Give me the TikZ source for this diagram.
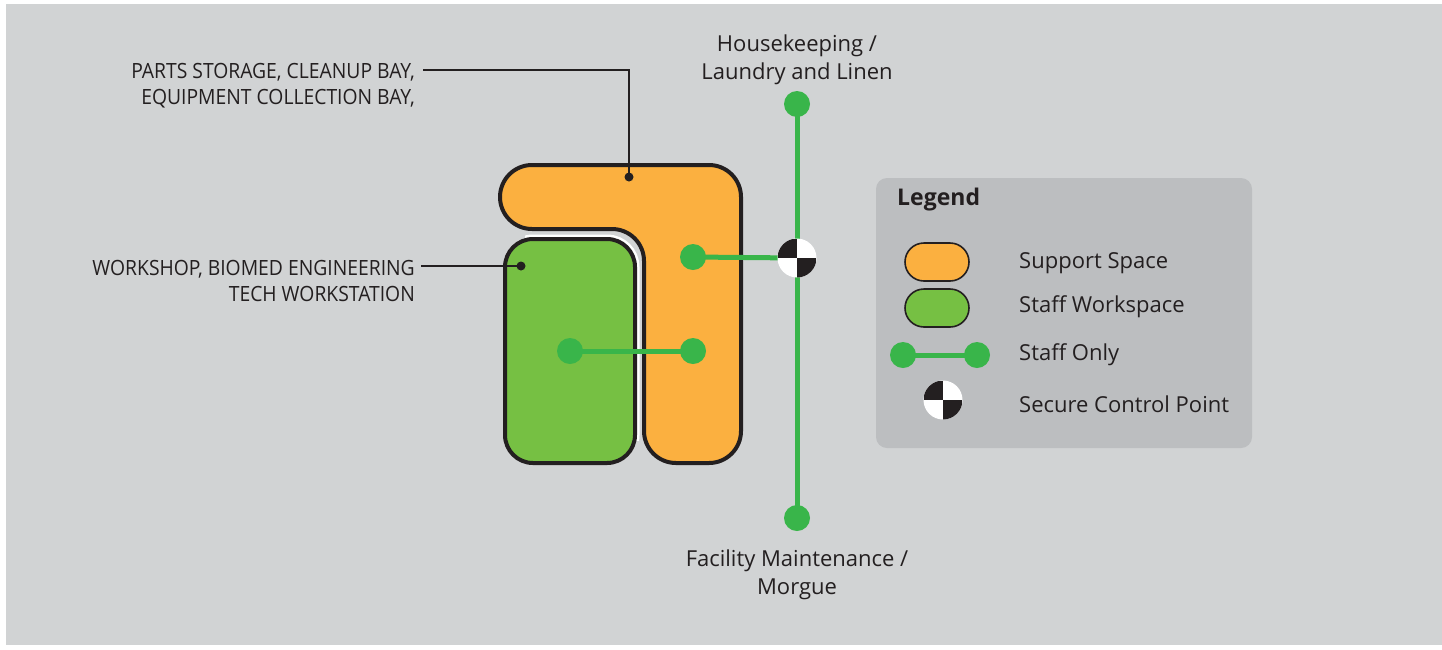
\documentclass[tikz,border=0pt]{standalone}
\usepackage{fontspec}
\setmainfont{Open Sans}
\newfontfamily\capsfont[FakeStretch=0.92]{Open Sans}
\usetikzlibrary{shapes.misc}
\definecolor{bggray}{HTML}{D1D3D4}
\definecolor{legendgray}{HTML}{BCBEC0}
\definecolor{supportorange}{HTML}{FBB040}
\definecolor{workgreen}{HTML}{76C043}
\definecolor{routegreen}{HTML}{39B54A}
\definecolor{ink}{HTML}{231F20}
\pgfdeclarelayer{bg}
\pgfdeclarelayer{lines}
\pgfsetlayers{bg,lines,main}
\tikzset{
  outline/.style={draw=ink, line width=4pt, line join=round},
  dot/.style={circle, fill=routegreen, minimum size=26pt, inner sep=0pt},
  route/.style={draw=routegreen, line width=5pt},
  leader/.style={draw=ink, line width=1.4pt},
  pin/.style={circle, fill=ink, minimum size=9pt, inner sep=0pt},
  checkpoint/.style={circle, fill=white, minimum size=39pt, inner sep=0pt,
    path picture={
      \fill[ink] (path picture bounding box.center) rectangle (path picture bounding box.north west);
      \fill[ink] (path picture bounding box.center) rectangle (path picture bounding box.south east);
    }},
  pill/.style={rounded rectangle, draw=ink, line width=1.6pt, minimum width=64pt, minimum height=38pt, inner sep=0pt},
  label/.style={text=ink, font=\fontsize{22}{28}\selectfont, inner sep=0pt},
  caplabel/.style={text=ink, font=\capsfont\fontsize{21}{26}\selectfont, inner sep=0pt, align=right, anchor=east},
}
\begin{document}
\begin{tikzpicture}[x=1pt, y=-1pt]
\useasboundingbox (0,0) rectangle (1442,649);

% canvas and zones
\begin{pgfonlayer}{bg}
  \fill[white] (0,0) rectangle (1442,649);
  \fill[bggray] (6,4) rectangle (1442,645);
  \fill[legendgray, rounded corners=11pt] (876,178) rectangle (1252,448);
  % support space (T shape)
  \draw[outline, fill=supportorange, rounded corners=32pt]
    (500,165) -- (741,165) -- (741,463) -- (644,463) -- (644,229) -- (500,229) -- cycle;
  % staff workspace, with a white seam where it meets the support space
  \begin{scope}
    \clip (525,200) rectangle (660,440);
    \draw[draw=white, line width=9pt, rounded corners=28pt] (505,239) rectangle (635,463);
  \end{scope}
  \draw[outline, fill=workgreen, rounded corners=28pt] (505,239) rectangle (635,463);
\end{pgfonlayer}

% route nodes
\node[dot] (top) at (797,104) {};
\node[dot] (bottom) at (797,518) {};
\node[checkpoint] (cp) at (797,258) {};
\node[dot] (sup1) at (693,257) {};
\node[dot] (sup2) at (693,351) {};
\node[dot] (work) at (570,351) {};

\begin{pgfonlayer}{lines}
  \draw[route] (top.center) -- (bottom.center);
  \draw[route] (sup1.center) -- (cp.center);
  \draw[route] (work.center) -- (sup2.center);
\end{pgfonlayer}

% destination labels
\node[label, align=center, anchor=north] (hk) at (797,35) {Housekeeping /\\Laundry and Linen};
\node[label, align=center, anchor=north] (fm) at (797,550) {Facility Maintenance /\\Morgue};

% callouts
\node[caplabel] (parts) at (415,86) {PARTS STORAGE, CLEANUP BAY,\\EQUIPMENT COLLECTION BAY,};
\node[pin] (partspin) at (629,177) {};
\coordinate (partsend) at (423,70);
\draw[leader] (partsend) -| (partspin.center);

\node[caplabel] (shop) at (415,281) {WORKSHOP, BIOMED ENGINEERING\\TECH WORKSTATION};
\node[pin] (shoppin) at (521,266) {};
\coordinate (shopend) at (421,266);
\draw[leader] (shopend) -- (shoppin.center);

% legend
\node[text=ink, font=\bfseries\fontsize{23}{28}\selectfont, anchor=west, inner sep=0pt] (legtitle) at (897,200) {Legend};
\node[pill, fill=supportorange] (legsup) at (937,262) {};
\node[pill, fill=workgreen] (legwork) at (937,308) {};
\node[dot] (legA) at (903,355) {};
\node[dot] (legB) at (977,355) {};
\begin{pgfonlayer}{lines}
  \draw[route] (legA.center) -- (legB.center);
\end{pgfonlayer}
\node[checkpoint] (legcp) at (943,400) {};
\node[label, anchor=west] at (1019,263) {Support Space};
\node[label, anchor=west] at (1019,307) {Staff Workspace};
\node[label, anchor=west] at (1019,355) {Staff Only};
\node[label, anchor=west] at (1019,404) {Secure Control Point};
\end{tikzpicture}
\end{document}
